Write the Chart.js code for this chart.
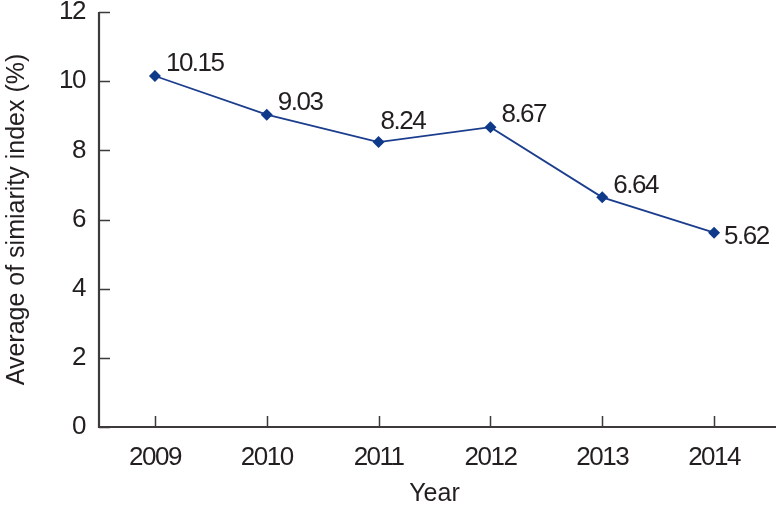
<!DOCTYPE html>
<html><head><meta charset="utf-8">
<script src="https://cdn.jsdelivr.net/npm/chart.js@4.4.1/dist/chart.umd.min.js"></script>
<style>html,body{margin:0;padding:0;background:#fff}#wrap{width:776px;height:509px}</style>
</head><body><div id="wrap"><canvas id="c" width="776" height="509"></canvas></div>
<script>
const years = ['2009','2010','2011','2012','2013','2014'];
const similarity = [10.15, 9.03, 8.24, 8.67, 6.64, 5.62];
const yTicks = [0, 2, 4, 6, 8, 10, 12];
const yTitle = 'Average of simiarity index (%)';
const xTitle = 'Year';

const FONT = "'Liberation Sans Narrow','Liberation Sans',Arial,sans-serif";
const TXT = '#231f20';
const AX = '#3c3a3a';
const TIGHT = '-1.5px';
const SIZE = 26;

const spacing = {
  id: 'spacing',
  beforeDraw(chart) { chart.ctx.letterSpacing = '0px'; },
  afterDraw(chart) { chart.ctx.letterSpacing = '0px'; }
};

const innerTicks = {
  id: 'innerTicks',
  afterDraw(chart) {
    const ctx = chart.ctx, ca = chart.chartArea;
    const x = chart.scales.x, y = chart.scales.y;
    ctx.save();
    ctx.strokeStyle = AX; ctx.lineWidth = 1.5;
    ctx.beginPath();
    y.ticks.forEach((t, i) => { const p = Math.round(y.getPixelForTick(i)) + 0.5; ctx.moveTo(ca.left, p); ctx.lineTo(ca.left + 11, p); });
    x.ticks.forEach((t, i) => { const p = Math.round(x.getPixelForTick(i)) + 0.5; ctx.moveTo(p, ca.bottom); ctx.lineTo(p, ca.bottom - 11); });
    ctx.stroke();
    ctx.lineWidth = 2.2;
    ctx.beginPath();
    ctx.moveTo(ca.left, ca.top); ctx.lineTo(ca.left, ca.bottom); ctx.lineTo(chart.width, ca.bottom);
    ctx.stroke();
    ctx.restore();
  }
};

const valueLabels = {
  id: 'valueLabels',
  afterDatasetsDraw(chart) {
    const ctx = chart.ctx;
    const meta = chart.getDatasetMeta(0);
    ctx.letterSpacing = TIGHT;
    ctx.save();
    ctx.font = SIZE + 'px ' + FONT;
    ctx.fillStyle = TXT;
    ctx.textAlign = 'left';
    ctx.textBaseline = 'middle';
    meta.data.forEach((pt, i) => {
      let dx = 11, dy = -12;
      if (i === 2) { dx = 2; dy = -20; }
      if (i === meta.data.length - 1) { dx = 10; dy = 4; }
      ctx.fillText(similarity[i].toFixed(2), pt.x + dx, pt.y + dy);
    });
    ctx.restore();
  }
};

new Chart(document.getElementById('c'), {
  type: 'line',
  data: {
    labels: years,
    datasets: [{
      data: similarity,
      borderColor: '#1b3d8d',
      backgroundColor: '#0f3a8a',
      borderWidth: 1.8,
      pointStyle: 'rectRot',
      pointRadius: 6,
      pointBorderWidth: 0,
      tension: 0,
      fill: false
    }]
  },
  options: {
    responsive: false,
    animation: false,
    layout: { padding: { top: 12, right: 0, left: 0, bottom: 0 } },
    plugins: { legend: { display: false }, tooltip: { enabled: false } },
    scales: {
      x: {
        offset: true,
        grid: { display: false, drawTicks: false, offset: false },
        border: { display: false },
        ticks: { z: 1, color: TXT, font: { family: FONT, size: SIZE }, padding: 15, maxRotation: 0 },
        title: { display: true, text: xTitle, color: TXT, font: { family: FONT, size: 25 }, padding: { top: 10, bottom: 0 } },
        afterFit(s) { s.height = 82; s.paddingRight = 0; s.paddingLeft = 0; }
      },
      y: {
        min: 0, max: 12,
        afterBuildTicks(s) { s.ticks = yTicks.map(v => ({ value: v })); },
        grid: { display: false, drawTicks: false },
        border: { display: false },
        ticks: { z: 1, color: TXT, font: { family: FONT, size: SIZE }, padding: 14 },
        title: { display: true, text: yTitle, color: TXT, font: { family: FONT, size: 25 }, padding: { top: 2, bottom: 0 } },
        afterFit(s) { s.width = 99; s.paddingTop = 0; s.paddingBottom = 0; }
      }
    }
  },
  plugins: [spacing, innerTicks, valueLabels]
});
</script>
</body></html>
